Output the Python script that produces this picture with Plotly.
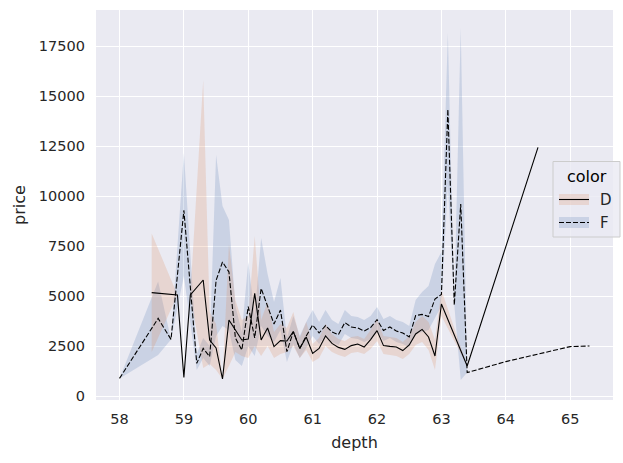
import plotly.graph_objects as go

# ---- data: D ----
d_depth = [58.5, 58.9, 59.0, 59.1, 59.3, 59.4, 59.5, 59.6, 59.7, 59.8, 59.9, 60.0, 60.1, 60.2, 60.3,
           60.4, 60.5, 60.6, 60.7, 60.8, 60.9, 61.0, 61.1, 61.2, 61.3, 61.4, 61.5, 61.6, 61.7, 61.8,
           61.9, 62.0, 62.1, 62.2, 62.3, 62.4, 62.5, 62.6, 62.7, 62.8, 62.9, 63.0, 63.4, 64.5]
d_price = [5170, 5050, 930, 5050, 5800, 2800, 2400, 850, 3800, 3300, 2800, 2850, 5130, 2800, 3400,
           2470, 2770, 2750, 3220, 2380, 2950, 2130, 2380, 3000, 2630, 2430, 2330, 2520, 2600, 2450,
           2820, 3270, 2520, 2480, 2450, 2270, 2550, 3100, 3330, 2950, 2000, 4600, 1500, 12430]
d_low = [2200, 5050, 930, 5050, 1400, 1600, 1300, 850, 1500, 2200, 2000, 1900, 2500, 2000, 2500,
         1900, 2100, 2200, 2500, 1900, 2300, 1700, 1900, 2500, 2200, 2050, 1950, 2150, 2200, 2100,
         2350, 2750, 2100, 2050, 2000, 1850, 2100, 2550, 2700, 2300, 1300, 4000, 1500, 12430]
d_high = [8130, 5050, 930, 5050, 15800, 4200, 3600, 850, 7600, 4800, 3800, 4000, 8000, 3800, 4700,
          3200, 3600, 3400, 4200, 2900, 3700, 2600, 2900, 3600, 3100, 2850, 2750, 2950, 3000, 2850,
          3300, 3850, 3000, 2950, 2900, 2700, 3000, 3700, 4000, 3700, 2800, 5300, 1500, 12430]

# ---- data: F ----
f_depth = [58.0, 58.6, 58.8, 59.0, 59.2, 59.3, 59.4, 59.5, 59.6, 59.7, 59.8, 59.9, 60.0, 60.1, 60.2,
           60.3, 60.4, 60.5, 60.6, 60.7, 60.8, 60.9, 61.0, 61.1, 61.2, 61.3, 61.4, 61.5, 61.6, 61.7,
           61.8, 61.9, 62.0, 62.1, 62.2, 62.3, 62.4, 62.5, 62.6, 62.7, 62.8, 62.9, 63.0, 63.1, 63.2,
           63.3, 63.4, 64.0, 65.0, 65.3]
f_price = [880, 3880, 2830, 9280, 1630, 2380, 1970, 5780, 6700, 6200, 2900, 2300, 4470, 2900, 5380,
           4450, 3600, 4300, 2220, 3220, 2380, 3000, 3550, 3150, 3520, 3200, 3070, 3670, 3450, 3400,
           3250, 3420, 3820, 3280, 3450, 3250, 3150, 2950, 4020, 4080, 3970, 4850, 5080, 14330, 4550,
           9600, 1170, 1720, 2470, 2500]
f_low = [880, 2050, 2830, 6000, 1300, 1900, 1500, 3000, 3500, 3300, 1800, 1500, 2500, 2000, 3500,
         3000, 2700, 3300, 1700, 2600, 1900, 2400, 3000, 2600, 3000, 2700, 2550, 3100, 2900, 2850,
         2700, 2850, 3250, 2750, 2900, 2700, 2600, 2450, 3100, 3200, 3300, 3900, 4500, 10600, 4550,
         800, 1170, 1720, 2470, 2500]
f_high = [880, 5720, 2830, 12150, 2100, 2900, 2500, 12050, 9500, 8800, 4500, 3200, 6700, 4000, 7900,
          6100, 4700, 5900, 2900, 4000, 3000, 3700, 4300, 3700, 4300, 3800, 3600, 4300, 4000, 3950,
          3800, 4000, 4450, 3850, 4000, 3800, 3700, 3500, 4800, 5200, 5500, 6600, 7200, 18150, 4550,
          18400, 1170, 1720, 2470, 2500]

x_ticks = [58, 59, 60, 61, 62, 63, 64, 65]
y_ticks = [0, 2500, 5000, 7500, 10000, 12500, 15000, 17500]

FONT = "DejaVu Sans"
TXT = "#262626"
ORANGE_BAND = "rgba(221,132,82,0.2)"
BLUE_BAND = "rgba(76,114,176,0.2)"

fig = go.Figure()

def band(x, lo, hi, color):
    fig.add_trace(go.Scatter(x=x, y=hi, mode="lines", line=dict(width=0), showlegend=False,
                             hoverinfo="skip"))
    fig.add_trace(go.Scatter(x=x, y=lo, mode="lines", line=dict(width=0), fill="tonexty",
                             fillcolor=color, showlegend=False, hoverinfo="skip"))

band(f_depth, f_low, f_high, BLUE_BAND)
band(d_depth, d_low, d_high, ORANGE_BAND)

fig.add_trace(go.Scatter(x=f_depth, y=f_price, mode="lines", name="F",
                         line=dict(color="black", width=1.1, dash="5px,2px"), showlegend=False))
fig.add_trace(go.Scatter(x=d_depth, y=d_price, mode="lines", name="D",
                         line=dict(color="black", width=1.1), showlegend=False))

# manual seaborn-like legend
L, R, T, B = 96, 613, 10, 400
def px(x):
    return (x - L) / (R - L)
def py(y):
    return (B - y) / (B - T)

shapes = [
    dict(type="rect", xref="paper", yref="paper", x0=px(553), x1=px(620), y0=py(237), y1=py(161.5),
         fillcolor="rgba(234,234,242,0.8)", line=dict(color="#cccccc", width=1)),
    dict(type="rect", xref="paper", yref="paper", x0=px(559), x1=px(589), y0=py(205), y1=py(194),
         fillcolor=ORANGE_BAND, line=dict(width=0)),
    dict(type="line", xref="paper", yref="paper", x0=px(559), x1=px(589), y0=py(199.5), y1=py(199.5),
         line=dict(color="black", width=1.1)),
    dict(type="rect", xref="paper", yref="paper", x0=px(559), x1=px(589), y0=py(228), y1=py(217),
         fillcolor=BLUE_BAND, line=dict(width=0)),
    dict(type="line", xref="paper", yref="paper", x0=px(559), x1=px(589), y0=py(222.5), y1=py(222.5),
         line=dict(color="black", width=1.1, dash="5px,2px")),
]
annotations = [
    dict(text="color", xref="paper", yref="paper", x=px(587), y=py(176), showarrow=False,
         font=dict(family=FONT, size=16, color="black"), xanchor="center", yanchor="middle"),
    dict(text="D", xref="paper", yref="paper", x=px(598), y=py(199.5), showarrow=False,
         font=dict(family=FONT, size=15, color=TXT), xanchor="left", yanchor="middle"),
    dict(text="F", xref="paper", yref="paper", x=px(598), y=py(222.5), showarrow=False,
         font=dict(family=FONT, size=15, color=TXT), xanchor="left", yanchor="middle"),
]

fig.update_layout(
    width=623, height=463,
    margin=dict(l=96, r=10, t=10, b=63),
    paper_bgcolor="white", plot_bgcolor="#eaeaf2",
    font=dict(family=FONT, size=14.5, color=TXT),
    shapes=shapes, annotations=annotations,
    showlegend=False,
    xaxis=dict(range=[57.635, 65.665], tickvals=x_ticks, ticktext=[str(v) for v in x_ticks],
               showgrid=True, gridcolor="white", gridwidth=1.3, zeroline=False, showline=False,
               ticks="", ticklabelstandoff=8,
               title=dict(text="depth", font=dict(family=FONT, size=16, color=TXT), standoff=11)),
    yaxis=dict(range=[-200, 19300], tickvals=y_ticks, ticktext=[str(v) for v in y_ticks],
               showgrid=True, gridcolor="white", gridwidth=1.3, zeroline=False, showline=False,
               ticks="", ticklabelstandoff=10,
               title=dict(text="price", font=dict(family=FONT, size=16, color=TXT), standoff=9)),
)

fig.write_html("out.html")
